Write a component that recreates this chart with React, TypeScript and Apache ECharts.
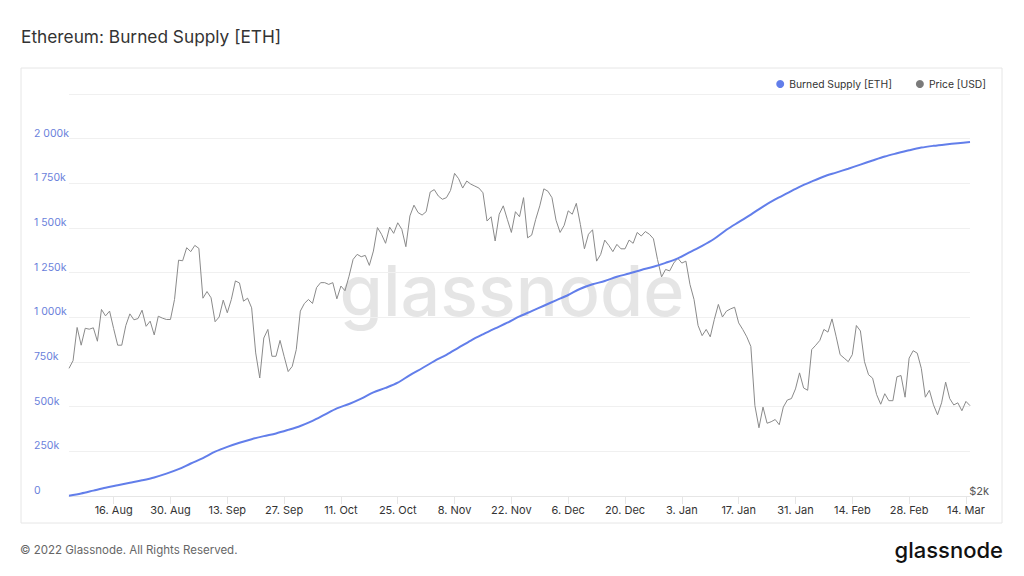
import React, { useEffect, useRef } from "react";
import * as echarts from "echarts";

// Daily price (USD), 5 Aug 2021 .. 15 Mar 2022
const priceUSD: number[] = [
  // Aug 5..31
  2835, 2895, 3170, 3020, 3163, 3155, 3167, 3053, 3330, 3272, 3315, 3160, 3020, 3020, 3187, 3290, 3237, 3248, 3323, 3180, 3225, 3106, 3269, 3252, 3240, 3240, 3422,
  // Sep
  3810, 3804, 3942, 3900, 3967, 3935, 3434, 3497, 3438, 3220, 3262, 3416, 3300, 3422, 3600, 3580, 3406, 3434, 3345, 2957, 2761, 3080, 3153, 2930, 2930, 3060, 2930, 2810, 2850, 2984,
  // Oct
  3315, 3385, 3422, 3385, 3535, 3583, 3583, 3566, 3583, 3428, 3550, 3505, 3647, 3818, 3871, 3846, 3860, 3756, 3906, 4165, 4089, 3990, 4170, 4100, 4220, 4145, 3953, 4300, 4428, 4340, 4310,
  // Nov
  4350, 4590, 4620, 4540, 4500, 4520, 4610, 4830, 4760, 4640, 4730, 4690, 4665, 4640, 4580, 4240, 4290, 4015, 4320, 4420, 4260, 4110, 4350, 4290, 4520, 4050, 4080, 4260, 4420, 4630,
  // Dec
  4600, 4520, 4250, 4110, 4190, 4360, 4320, 4450, 4200, 3930, 4090, 4140, 3800, 3870, 4025, 3967, 3900, 3978, 3930, 3930, 4025, 3990, 4110, 4070, 4120, 4090, 4040, 3818, 3640, 3715, 3700,
  // Jan
  3780, 3830, 3780, 3800, 3566, 3422, 3187, 3100, 3153, 3090, 3240, 3376, 3262, 3315, 3335, 3350, 3210, 3153, 3090, 3010, 2560, 2410, 2550, 2440, 2450, 2465, 2430, 2550, 2600, 2610, 2680,
  // Feb
  2800, 2687, 2670, 2984, 3020, 3060, 3153, 3130, 3245, 3095, 2943, 2915, 2887, 2943, 3187, 3140, 2887, 2786, 2760, 2638, 2570, 2645, 2595, 2595, 2770, 2780, 2620, 2915,
  // Mar 1..15
  2975, 2955, 2835, 2620, 2670, 2566, 2497, 2580, 2730, 2610, 2565, 2580, 2525, 2590, 2560,
];

const burnedDates: string[] = [
  "5. Aug", "8. Aug", "11. Aug", "14. Aug", "17. Aug", "20. Aug", "23. Aug", "26. Aug", "29. Aug",
  "1. Sep", "4. Sep", "7. Sep", "10. Sep", "13. Sep", "16. Sep", "19. Sep", "22. Sep", "25. Sep", "28. Sep",
  "1. Oct", "4. Oct", "7. Oct", "10. Oct", "13. Oct", "16. Oct", "19. Oct", "22. Oct", "25. Oct", "28. Oct", "31. Oct",
  "3. Nov", "6. Nov", "9. Nov", "12. Nov", "15. Nov", "18. Nov", "21. Nov", "24. Nov", "27. Nov", "30. Nov",
  "3. Dec", "6. Dec", "9. Dec", "12. Dec", "15. Dec", "18. Dec", "21. Dec", "24. Dec", "27. Dec", "30. Dec",
  "2. Jan", "5. Jan", "8. Jan", "11. Jan", "14. Jan", "17. Jan", "20. Jan", "23. Jan", "26. Jan", "29. Jan",
  "1. Feb", "4. Feb", "7. Feb", "10. Feb", "13. Feb", "16. Feb", "19. Feb", "22. Feb", "25. Feb", "28. Feb",
  "3. Mar", "6. Mar", "9. Mar", "12. Mar", "15. Mar",
];

// Burned supply in thousand ETH
const burnedK: number[] = [
  2, 14, 30, 46, 60, 74, 88, 104, 125,
  150, 182, 212, 248, 275, 298, 318, 335, 350, 370,
  392, 420, 455, 490, 515, 545, 580, 605, 634, 677, 715,
  755, 790, 830, 870, 905, 938, 970, 1005, 1035, 1065,
  1095, 1125, 1160, 1185, 1203, 1227, 1245, 1265, 1283, 1305,
  1330, 1365, 1400, 1440, 1490, 1533, 1575, 1620, 1660, 1695,
  1730, 1760, 1788, 1810, 1832, 1855, 1878, 1900, 1918, 1935,
  1950, 1960, 1968, 1975, 1981,
];

const tickLabels: string[] = [
  "16. Aug", "30. Aug", "13. Sep", "27. Sep", "11. Oct", "25. Oct", "8. Nov", "22. Nov",
  "6. Dec", "20. Dec", "3. Jan", "17. Jan", "31. Jan", "14. Feb", "28. Feb", "14. Mar",
];

const monthNames = ["Jan", "Feb", "Mar", "Apr", "May", "Jun", "Jul", "Aug", "Sep", "Oct", "Nov", "Dec"];
const startUTC = Date.UTC(2021, 7, 5);
const categories: string[] = priceUSD.map((_, i) => {
  const d = new Date(startUTC + i * 86400000);
  return `${d.getUTCDate()}. ${monthNames[d.getUTCMonth()]}`;
});

const FONT = "Inter, 'Noto Sans', sans-serif";
const BLUE = "#627eea";

export default function App() {
  const ref = useRef<HTMLDivElement>(null);
  useEffect(() => {
    if (!ref.current) return;
    const chart = echarts.init(ref.current, undefined, { renderer: "svg" });
    const showTick = (_i: number, v: string) => tickLabels.includes(v);
    chart.setOption({
      animation: false,
      backgroundColor: "#ffffff",
      textStyle: { fontFamily: FONT },
      title: {
        text: "Ethereum: Burned Supply [ETH]",
        left: 16,
        top: 23,
        textStyle: { fontFamily: FONT, fontSize: 17.3, fontWeight: "normal", color: "#333333" },
      },
      legend: {
        data: ["Burned Supply [ETH]", "Price [USD]"],
        right: 33,
        top: 74,
        icon: "circle",
        itemWidth: 8,
        itemHeight: 8,
        itemGap: 24,
        textStyle: { fontFamily: FONT, fontSize: 10.3, color: "#333333" },
      },
      graphic: [
        {
          type: "rect",
          shape: { x: 21, y: 68, width: 981, height: 455 },
          style: { fill: "none", stroke: "#e6e6e6", lineWidth: 1 },
          z: -20,
          silent: true,
        },
        {
          type: "text",
          x: 512,
          y: 290,
          z: -10,
          silent: true,
          style: {
            text: "glassnode",
            fontFamily: FONT,
            fontSize: 70,
            fontWeight: 500,
            fill: "rgba(0,0,0,0.1)",
            align: "center",
            verticalAlign: "middle",
          },
        },
        {
          type: "text",
          x: 20,
          y: 550,
          style: {
            text: "© 2022 Glassnode. All Rights Reserved.",
            fontFamily: FONT,
            fontSize: 11.5,
            fill: "#666666",
            verticalAlign: "middle",
          },
        },
        {
          type: "text",
          x: 1003,
          y: 550,
          style: {
            text: "glassnode",
            fontFamily: FONT,
            fontSize: 22,
            fontWeight: 500,
            fill: "#111111",
            align: "right",
            verticalAlign: "middle",
          },
        },
      ],
      grid: { left: 69, right: 54, top: 94, bottom: 80, containLabel: false },
      xAxis: {
        type: "category",
        data: categories,
        boundaryGap: false,
        axisLine: { lineStyle: { color: "#e6e6e6" } },
        axisTick: { show: true, interval: showTick, length: 8, lineStyle: { color: "#e6e6e6" } },
        axisLabel: { interval: showTick, color: "#333333", fontSize: 11, margin: 8, fontFamily: FONT },
      },
      yAxis: [
        {
          type: "value",
          min: 0,
          max: 2250,
          interval: 250,
          position: "left",
          axisLine: { show: false },
          axisTick: { show: false },
          splitLine: { lineStyle: { color: "#f0f0f0" } },
          axisLabel: {
            color: "#6a7fdb",
            fontSize: 10.5,
            fontFamily: FONT,
            align: "left",
            margin: 35,
            verticalAlign: "bottom",
            formatter: (v: number) => {
              if (v === 2250) return "";
              if (v === 0) return "0";
              if (v >= 1000) return `${Math.floor(v / 1000)} ${String(v % 1000).padStart(3, "0")}k`;
              return `${v}k`;
            },
          },
        },
        {
          type: "log",
          min: 2000,
          max: 6000,
          position: "right",
          axisLine: { show: false },
          axisTick: { show: false },
          splitLine: { show: false },
          axisLabel: {
            showMinLabel: true,
            showMaxLabel: false,
            color: "#555555",
            fontSize: 11,
            fontFamily: FONT,
            align: "right",
            margin: 19,
            verticalAlign: "bottom",
            formatter: (v: number) => (Math.abs(v - 2000) < 1 ? "$2k" : ""),
          },
        },
      ],
      series: [
        {
          name: "Price [USD]",
          type: "line",
          yAxisIndex: 1,
          data: priceUSD,
          symbol: "none",
          lineStyle: { color: "#8a8a8a", width: 1 },
          itemStyle: { color: "#7a7a7a" },
          z: 2,
        },
        {
          name: "Burned Supply [ETH]",
          type: "line",
          yAxisIndex: 0,
          data: burnedDates.map((d, i) => [categories.indexOf(d), burnedK[i]]),
          symbol: "none",
          smooth: 0.3,
          lineStyle: { color: BLUE, width: 2 },
          itemStyle: { color: BLUE },
          z: 3,
        },
      ],
    });
    return () => chart.dispose();
  }, []);
  return (
    <div
      ref={ref}
      style={{ position: "fixed", left: 0, top: 0, width: 1024, height: 576 }}
    />
  );
}
